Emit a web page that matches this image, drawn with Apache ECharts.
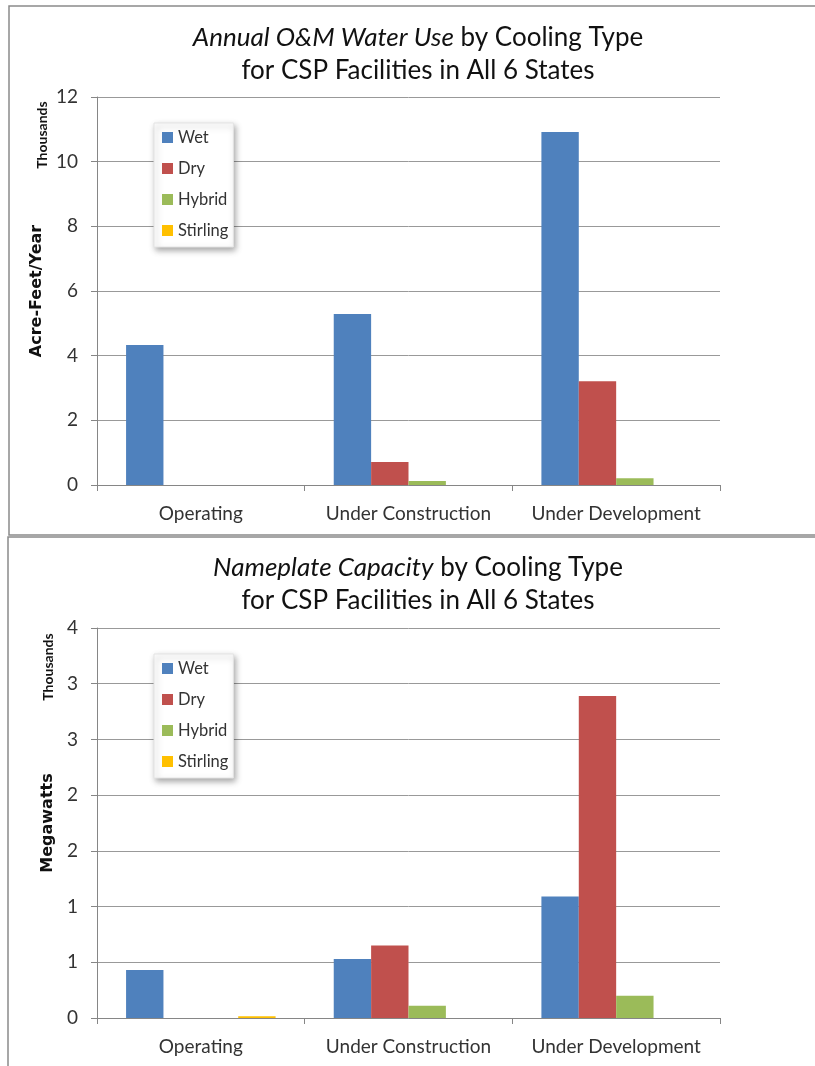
<!DOCTYPE html>
<html>
<head>
<meta charset="utf-8">
<title>CSP Facilities by Cooling Type</title>
<script src="https://cdn.jsdelivr.net/npm/echarts@6/dist/echarts.min.js"></script>
<style>
  html, body { margin: 0; padding: 0; background: #ffffff; }
  #chart { width: 815px; height: 1066px; }
</style>
</head>
<body>
<div id="chart"></div>
<script>
// Facility status groups shown on both charts
const categories = ['Operating', 'Under Construction', 'Under Development'];
const coolingTypes = ['Wet', 'Dry', 'Hybrid', 'Stirling'];
const coolingColors = ['#4F81BD', '#C0504D', '#9BBB59', '#FFC000'];

// Annual O&M water use, thousands of acre-feet per year
const waterWet = [4.33, 5.29, 10.92];
const waterDry = [0, 0.71, 3.21];
const waterHybrid = [0, 0.12, 0.21];
const waterStirling = [0, 0, 0];

// Nameplate capacity, thousands of megawatts
const capWet = [0.43, 0.53, 1.09];
const capDry = [0, 0.65, 2.89];
const capHybrid = [0, 0.11, 0.20];
const capStirling = [0.015, 0, 0];

// Value axis ranges (thousands)
const waterAxis = { min: 0, max: 12, interval: 2 };
const capAxis = { min: 0, max: 3.5, interval: 0.5 };

const FONT = 'Lato';
const TEXT = '#333333';
const AXIS = '#868686';
const GRID = '#999999';

function valueAxis(gridIndex, range, name, nameGap) {
  return {
    type: 'value',
    gridIndex: gridIndex,
    min: range.min, max: range.max, interval: range.interval,
    name: name,
    nameLocation: 'middle',
    nameRotate: 90,
    nameGap: nameGap,
    nameTextStyle: { fontFamily: 'DejaVu Sans', fontWeight: 'bold', fontSize: 16, color: '#111' },
    axisLine: { show: true, lineStyle: { color: AXIS, width: 1 } },
    axisTick: { show: true, length: 6, lineStyle: { color: AXIS } },
    splitLine: { show: true, lineStyle: { color: GRID, width: 1 } },
    axisLabel: {
      margin: 19,
      fontFamily: FONT, fontSize: 19, color: TEXT,
      formatter: function (v) { return String(Math.round(v)); }
    }
  };
}

function categoryAxis(gridIndex) {
  return {
    type: 'category',
    gridIndex: gridIndex,
    data: categories,
    boundaryGap: true,
    axisLine: { show: true, lineStyle: { color: AXIS, width: 1 } },
    axisTick: { show: true, alignWithLabel: false, length: 6, lineStyle: { color: AXIS } },
    axisLabel: { margin: 19, fontFamily: FONT, fontSize: 19, color: TEXT, interval: 0 }
  };
}

function barSeries(name, data, idx, axisIndex) {
  return {
    type: 'bar',
    name: name,
    data: data,
    xAxisIndex: axisIndex,
    yAxisIndex: axisIndex,
    barGap: '0%',
    barCategoryGap: '28%',
    itemStyle: { color: coolingColors[idx] },
    emphasis: { disabled: true },
    animation: false
  };
}

function legendAt(top) {
  return {
    orient: 'vertical',
    left: 154,
    top: top,
    data: coolingTypes,
    icon: 'rect',
    itemWidth: 11,
    itemHeight: 11,
    itemGap: 14,
    itemStyle: { borderWidth: 0 },
    padding: [6, 5, 8, 8],
    backgroundColor: '#ffffff',
    borderColor: '#e4e4e4',
    borderWidth: 1,
    shadowColor: 'rgba(0,0,0,0.35)',
    shadowBlur: 6,
    shadowOffsetX: 2,
    shadowOffsetY: 3,
    selectedMode: false,
    textStyle: { fontFamily: FONT, fontSize: 16.5, color: TEXT }
  };
}

function chartTitle(italicPart, top) {
  return {
    text: '{i|' + italicPart + '} by Cooling Type\nfor CSP Facilities in All 6 States',
    left: 418,
    top: top,
    textAlign: 'center',
    padding: 0,
    textStyle: {
      fontFamily: FONT, fontSize: 26, fontWeight: 'normal', color: '#111', lineHeight: 33,
      rich: { i: { fontFamily: FONT, fontSize: 26, fontStyle: 'italic', color: '#111', lineHeight: 33 } }
    }
  };
}

const chart = echarts.init(document.getElementById('chart'), null, { renderer: 'canvas' });

chart.setOption({
  backgroundColor: '#ffffff',
  animation: false,
  title: [
    chartTitle('Annual O&M Water Use', 21),
    chartTitle('Nameplate Capacity', 551)
  ],
  legend: [legendAt(123), legendAt(654)],
  grid: [
    { left: 97, right: 95, top: 97, height: 388 },
    { left: 97, right: 95, top: 628, height: 390 }
  ],
  xAxis: [categoryAxis(0), categoryAxis(1)],
  yAxis: [
    valueAxis(0, waterAxis, 'Acre-Feet/Year', 49),
    valueAxis(1, capAxis, 'Megawatts', 40)
  ],
  series: [
    barSeries('Wet', waterWet, 0, 0),
    barSeries('Dry', waterDry, 1, 0),
    barSeries('Hybrid', waterHybrid, 2, 0),
    barSeries('Stirling', waterStirling, 3, 0),
    barSeries('Wet', capWet, 0, 1),
    barSeries('Dry', capDry, 1, 1),
    barSeries('Hybrid', capHybrid, 2, 1),
    barSeries('Stirling', capStirling, 3, 1)
  ],
  graphic: [
    // chart frames
    { type: 'rect', silent: true, z: -1,
      shape: { x: 9, y: 6, width: 820, height: 529 },
      style: { fill: 'none', stroke: '#8a8a8a', lineWidth: 1.5 } },
    { type: 'rect', silent: true, z: -1,
      shape: { x: 8, y: 537, width: 820, height: 540 },
      style: { fill: 'none', stroke: '#8a8a8a', lineWidth: 1.5 } },
    // display-unit captions
    { type: 'text', silent: true, x: 42, y: 135, rotation: Math.PI / 2,
      style: { text: 'Thousands', fontFamily: FONT, fontWeight: 'bold', fontSize: 14, fill: '#111',
               align: 'center', verticalAlign: 'middle' } },
    { type: 'text', silent: true, x: 48, y: 667, rotation: Math.PI / 2,
      style: { text: 'Thousands', fontFamily: FONT, fontWeight: 'bold', fontSize: 14, fill: '#111',
               align: 'center', verticalAlign: 'middle' } }
  ]
});
</script>
</body>
</html>
